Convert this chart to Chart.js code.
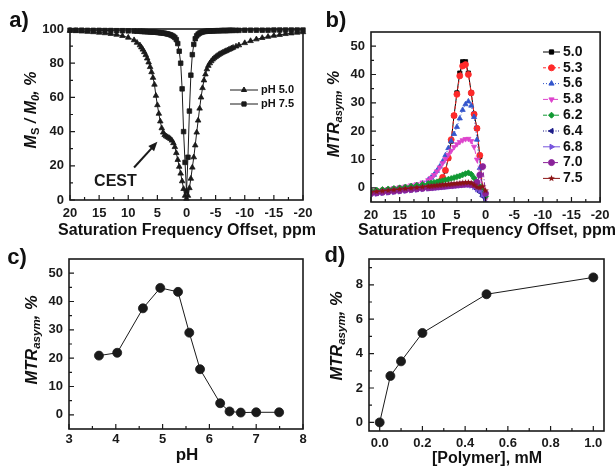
<!DOCTYPE html>
<html>
<head>
<meta charset="utf-8">
<script src="https://cdn.jsdelivr.net/npm/chart.js@4.4.0/dist/chart.umd.min.js"></script>
<style>
  body { margin: 0; background: #fff; width: 615px; height: 470px; position: relative; overflow: hidden;
         font-family: "Liberation Sans", Arial, sans-serif; color: #111; }
  canvas { position: absolute; }
  .t { position: absolute; font-weight: bold; white-space: nowrap; line-height: 1; transform: translate(-50%, -50%); }
  .yt { position: absolute; font-weight: bold; font-style: italic; white-space: nowrap; line-height: 1;
        transform: translate(-50%, -50%) rotate(-90deg); }
  .yt sub { font-size: 70%; vertical-align: -0.25em; }
</style>
</head>
<body>
<canvas id="ca" width="320" height="235" style="left:0;top:0"></canvas>
<canvas id="cb" width="310" height="235" style="left:305px;top:0"></canvas>
<canvas id="cc" width="320" height="235" style="left:0;top:235px"></canvas>
<canvas id="cd" width="310" height="235" style="left:305px;top:235px"></canvas>

<div class="t" style="left:19px;top:20px;font-size:22px">a)</div>
<div class="t" style="left:336px;top:20px;font-size:22px">b)</div>
<div class="t" style="left:17px;top:257px;font-size:22px">c)</div>
<div class="t" style="left:335px;top:255px;font-size:22px">d)</div>

<div class="yt" style="left:32px;top:110px;font-size:16px"><i>M</i><sub style="font-style:normal">S</sub> / <i>M</i><sub>0</sub>, %</div>
<div class="yt" style="left:335px;top:114px;font-size:16px">MTR<sub>asym</sub>, %</div>
<div class="yt" style="left:33px;top:340px;font-size:16.5px">MTR<sub>asym</sub>, %</div>
<div class="yt" style="left:338px;top:336px;font-size:16.5px">MTR<sub>asym</sub>, %</div>

<div class="t" style="left:187px;top:230px;font-size:16px">Saturation Frequency Offset, ppm</div>
<div class="t" style="left:487px;top:230px;font-size:16px">Saturation Frequency Offset, ppm</div>
<div class="t" style="left:187px;top:454px;font-size:17px">pH</div>
<div class="t" style="left:487px;top:458px;font-size:16px">[Polymer], mM</div>

<script>
var FONT = '"Liberation Sans", Arial, sans-serif';

// ---------------- a) Z-spectra ----------------
var offsetA = [20, 19, 18, 17, 16, 15, 14, 13, 12, 11, 10, 9, 8.5,
  8, 7.75, 7.5, 7.25, 7, 6.75, 6.5, 6.25, 6, 5.75, 5.5, 5.25, 5, 4.75, 4.5, 4.25, 4, 3.75, 3.5, 3.25, 3,
  2.75, 2.5, 2.25, 2, 1.75, 1.5, 1.25, 1, 0.75, 0.5, 0.25, 0,
  -0.25, -0.5, -0.75, -1, -1.25, -1.5, -1.75, -2, -2.25, -2.5, -2.75, -3, -3.25, -3.5, -3.75, -4,
  -4.25, -4.5, -4.75, -5, -5.25, -5.5, -5.75, -6, -6.25, -6.5, -6.75, -7, -7.25, -7.5, -7.75, -8,
  -8.5, -9, -10, -11, -12, -13, -14, -15, -16, -17, -18, -19, -20];
var zPH50 = [99, 98.8, 98.6, 98.4, 98.2, 97.9, 97.6, 97.2, 96.7, 96, 95, 93.5, 92,
  90.5, 89.3, 88, 86.5, 84.8, 82.8, 80.5, 77.8, 74.8, 71.5, 67.5, 61, 55.5, 50.5, 46, 42, 39.5, 38, 37.3, 36.8, 36.3,
  35.7, 34.8, 33.3, 31, 27.5, 23.5, 19.5, 15.5, 11, 6.5, 2.5, 0.8,
  2.5, 7, 12.5, 19, 25, 32, 39.5, 46.5, 53.5, 60, 65.5, 70, 73.5, 76.5, 78.5, 80,
  81.2, 82.2, 83, 83.7, 84.3, 84.9, 85.4, 85.9, 86.3, 86.7, 87.1, 87.5, 87.9, 88.3, 88.7, 89.1,
  89.8, 90.5, 91.8, 93, 94, 94.8, 95.5, 96.1, 96.6, 97.1, 97.5, 97.9, 98.2];
var zPH75 = [99.3, 99.3, 99.3, 99.2, 99.2, 99.2, 99.1, 99.1, 99, 99, 98.9, 98.8, 98.7,
  98.7, 98.6, 98.6, 98.5, 98.5, 98.4, 98.4, 98.3, 98.3, 98.2, 98.2, 98.1, 98, 97.9, 97.8, 97.7, 97.6, 97.5, 97.3, 97.1, 96.9,
  96.6, 96.2, 95.7, 95, 93.8, 91.5, 87, 80, 65, 40, 22, 5,
  25, 52, 73, 85, 91, 94.3, 96, 97, 97.6, 98, 98.3, 98.5, 98.6, 98.7, 98.8, 98.8,
  98.9, 98.9, 98.9, 99, 99, 99, 99, 99.1, 99.1, 99.1, 99.1, 99.1, 99.2, 99.2, 99.2, 99.2,
  99.2, 99.2, 99.3, 99.3, 99.3, 99.3, 99.3, 99.4, 99.4, 99.4, 99.4, 99.4, 99.4];
var ticksAx = [20, 15, 10, 5, 0, -5, -10, -15, -20];
var minorAx = [17.5, 12.5, 7.5, 2.5, -2.5, -7.5, -12.5, -17.5];
var ticksAy = [0, 20, 40, 60, 80, 100];
var minorAy = [10, 30, 50, 70, 90];

// ---------------- b) MTRasym spectra ----------------
var offsetB = [20, 19, 18, 17, 16, 15, 14, 13, 12, 11, 10, 9.5, 9, 8.5, 8, 7.5, 7, 6.5, 6, 5.5, 5,
  4.5, 4, 3.5, 3, 2.5, 2, 1.5, 1, 0.5, 0];
var mtrB50 = [-1.6, -1.4, -1.2, -1.0, -0.8, -0.6, -0.4, -0.2, 0.0, 0.2, 0.4, 0.6, 0.8, 1.2, 2.0, 3.5, 6.0, 10.5, 16.5, 25.5, 33.5,
  40.5, 44.5, 44.5, 40.5, 33.5, 26, 21, 11, -2, -8];
var mtrB53 = [-1.4, -1.2, -1.0, -0.8, -0.6, -0.4, -0.2, 0.0, 0.2, 0.4, 0.6, 0.8, 1.0, 1.4, 2.2, 3.7, 6.2, 10.5, 17, 25.5, 33,
  39.5, 43, 43.5, 40, 33.5, 26, 21, 11.5, -1, -7];
var mtrB56 = [-1.5, -1.3, -1.1, -0.9, -0.6, -0.3, 0.0, 0.4, 0.9, 1.6, 2.8, 3.6, 4.6, 6.0, 7.5, 9.3, 11.5, 14, 16.5, 19, 21.5,
  24.5, 27.5, 29.5, 30.5, 29, 25, 17, 7, -1, -6];
var mtrB58 = [-1.3, -1.0, -0.7, -0.4, -0.1, 0.2, 0.5, 0.9, 1.3, 1.9, 2.7, 3.5, 4.5, 5.8, 7.2, 8.7, 10.2, 11.7, 13.1, 14.4, 15.4,
  16.2, 16.8, 17.2, 17.3, 16.5, 14.5, 10, 4.5, -0.5, -4];
var mtrB62 = [-1.0, -0.8, -0.6, -0.4, -0.2, 0.0, 0.3, 0.6, 0.9, 1.2, 1.5, 1.7, 1.9, 2.1, 2.3, 2.5, 2.8, 3.0, 3.3, 3.6, 3.9,
  4.2, 4.6, 5.0, 5.3, 4.8, 3.5, 2, 0.5, -1, -3];
var mtrB64 = [-2.0, -1.8, -1.6, -1.4, -1.2, -1.0, -0.8, -0.6, -0.4, -0.2, 0.0, 0.1, 0.2, 0.3, 0.4, 0.5, 0.6, 0.7, 0.8, 0.9, 1.0,
  1.1, 1.2, 1.3, 1.3, 1.1, 0.5, -0.5, -1.5, -3, -6];
var mtrB68 = [-2.3, -2.1, -1.9, -1.7, -1.5, -1.3, -1.1, -0.9, -0.7, -0.5, -0.3, -0.2, -0.1, 0.0, 0.1, 0.2, 0.3, 0.4, 0.5, 0.6, 0.7,
  0.8, 0.9, 1.0, 1.0, 0.8, 0.3, -0.5, -1.0, -2.5, -5];
var mtrB70 = [-2.0, -1.8, -1.6, -1.4, -1.2, -1.0, -0.8, -0.6, -0.4, -0.2, 0.0, 0.1, 0.2, 0.3, 0.4, 0.5, 0.6, 0.7, 0.8, 0.9, 1.0,
  1.1, 1.2, 1.3, 1.3, 1.2, 1.0, 2.0, 4.5, 7.5, -2];
var mtrB75 = [-1.5, -1.3, -1.1, -0.9, -0.7, -0.5, -0.3, -0.1, 0.1, 0.3, 0.5, 0.6, 0.7, 0.8, 0.9, 1.0, 1.1, 1.2, 1.3, 1.4, 1.5,
  1.6, 1.7, 1.8, 1.9, 1.7, 1.0, 0.2, 0.0, 0.5, -1];
var labelsB = ['5.0', '5.3', '5.6', '5.8', '6.2', '6.4', '6.8', '7.0', '7.5'];
var ticksBy = [0, 10, 20, 30, 40, 50];
var minorBy = [5, 15, 25, 35, 45];

// ---------------- c) MTRasym vs pH ----------------
var phC = [3.64, 4.03, 4.58, 4.95, 5.33, 5.57, 5.8, 6.23, 6.43, 6.67, 7.0, 7.49];
var mtrC = [20.9, 21.9, 37.6, 44.8, 43.4, 29.0, 16.1, 4.1, 1.2, 0.8, 0.9, 0.9];
var ticksCx = [3, 4, 5, 6, 7, 8];
var minorCx = [3.5, 4.5, 5.5, 6.5, 7.5];

// ---------------- d) MTRasym vs concentration ----------------
var polyD = [0, 0.05, 0.1, 0.2, 0.5, 1.0];
var mtrD = [0, 2.7, 3.55, 5.2, 7.45, 8.43];
var ticksDx = [0, 0.2, 0.4, 0.6, 0.8, 1.0];
var minorDx = [0.1, 0.3, 0.5, 0.7, 0.9];
var ticksDy = [0, 2, 4, 6, 8];
var minorDy = [1, 3, 5, 7, 9];

function pts(xs, ys) {
  return xs.map(function (x, i) { return { x: x, y: ys[i] }; });
}

// petite etoile pleine pour la serie pH 7.5
function starImage(color, r) {
  var c = document.createElement('canvas');
  var s = Math.ceil(r * 2 + 2);
  c.width = s; c.height = s;
  var g = c.getContext('2d');
  g.fillStyle = color;
  g.beginPath();
  for (var k = 0; k < 10; k++) {
    var rr = k % 2 ? r * 0.45 : r;
    var ang = -Math.PI / 2 + k * Math.PI / 5;
    g.lineTo(s / 2 + rr * Math.cos(ang), s / 2 + rr * Math.sin(ang));
  }
  g.closePath();
  g.fill();
  return c;
}

// cadre + graduations vers l'interieur
var frame = {
  id: 'frame',
  afterDatasetsDraw: function (chart, args, o) {
    var a = chart.chartArea, ctx = chart.ctx, xs = chart.scales.x, ys = chart.scales.y;
    ctx.save();
    ctx.strokeStyle = '#1a1a1a';
    ctx.lineWidth = 1.2;
    ctx.beginPath();
    xs.ticks.forEach(function (t) { var x = xs.getPixelForValue(t.value); ctx.moveTo(x, a.bottom); ctx.lineTo(x, a.bottom - 5); });
    (o.xMinor || []).forEach(function (v) { var x = xs.getPixelForValue(v); ctx.moveTo(x, a.bottom); ctx.lineTo(x, a.bottom - 3); });
    ys.ticks.forEach(function (t) { var y = ys.getPixelForValue(t.value); ctx.moveTo(a.left, y); ctx.lineTo(a.left + 5, y); });
    (o.yMinor || []).forEach(function (v) { var y = ys.getPixelForValue(v); ctx.moveTo(a.left, y); ctx.lineTo(a.left + 3, y); });
    ctx.stroke();
    ctx.lineWidth = 1.6;
    ctx.strokeRect(a.left, a.top, a.right - a.left, a.bottom - a.top);
    ctx.restore();
  }
};

// legende dessinee dans la zone du graphique
var inLegend = {
  id: 'inLegend',
  afterDatasetsDraw: function (chart, args, o) {
    if (!o.x0) return;
    var ctx = chart.ctx;
    chart.data.datasets.forEach(function (ds, i) {
      var y = o.y0 + i * o.dy;
      ctx.save();
      ctx.strokeStyle = ds.borderColor;
      ctx.lineWidth = 1;
      ctx.setLineDash(ds.borderDash || []);
      ctx.beginPath(); ctx.moveTo(o.x0, y); ctx.lineTo(o.x1, y); ctx.stroke();
      ctx.setLineDash([]);
      ctx.fillStyle = ds.pointBackgroundColor;
      ctx.strokeStyle = ds.pointBorderColor;
      Chart.helpers.drawPoint(ctx, { pointStyle: ds.pointStyle, rotation: ds.pointRotation || 0, radius: o.r, borderWidth: 1 }, (o.x0 + o.x1) / 2, y);
      ctx.fillStyle = '#111';
      ctx.font = o.font;
      ctx.textAlign = 'left';
      ctx.textBaseline = 'middle';
      ctx.fillText(ds.label, o.tx, y);
      ctx.restore();
    });
  }
};

// fleche CEST du panneau a)
var cestArrow = {
  id: 'cestArrow',
  afterDatasetsDraw: function (chart, args, o) {
    if (!o.on) return;
    var xs = chart.scales.x, ys = chart.scales.y, ctx = chart.ctx;
    var x0 = xs.getPixelForValue(9.0), y0 = ys.getPixelForValue(19);
    var x1 = xs.getPixelForValue(5.0), y1 = ys.getPixelForValue(34);
    var ang = Math.atan2(y1 - y0, x1 - x0);
    ctx.save();
    ctx.strokeStyle = '#1a1a1a'; ctx.fillStyle = '#1a1a1a'; ctx.lineWidth = 2;
    ctx.beginPath(); ctx.moveTo(x0, y0); ctx.lineTo(x1 - 6 * Math.cos(ang), y1 - 6 * Math.sin(ang)); ctx.stroke();
    ctx.beginPath();
    ctx.moveTo(x1, y1);
    ctx.lineTo(x1 - 10 * Math.cos(ang - 0.4), y1 - 10 * Math.sin(ang - 0.4));
    ctx.lineTo(x1 - 10 * Math.cos(ang + 0.4), y1 - 10 * Math.sin(ang + 0.4));
    ctx.closePath(); ctx.fill();
    ctx.font = 'bold 16px ' + FONT;
    ctx.textAlign = 'center'; ctx.textBaseline = 'middle';
    ctx.fillText('CEST', xs.getPixelForValue(12.2), ys.getPixelForValue(10.5));
    ctx.restore();
  }
};

Chart.register(frame, inLegend, cestArrow);

function axis(min, max, ticks, fmt, size, isY, reverse, pad) {
  return {
    type: 'linear', min: min, max: max, reverse: !!reverse,
    afterBuildTicks: function (s) { s.ticks = ticks.map(function (v) { return { value: v }; }); },
    afterFit: function (s) { if (isY) s.width = size; else s.height = size; },
    grid: { display: false, drawTicks: false },
    border: { display: false },
    ticks: { color: '#1a1a1a', font: { family: FONT, size: 13, weight: 'bold' },
             padding: pad !== undefined ? pad : (isY ? 6 : 5),
             autoSkip: false, maxRotation: 0, callback: fmt }
  };
}

function plain(v) { return String(v); }
function fixed1(v) { return v.toFixed(1); }

function makeChart(id, datasets, xAx, yAx, pad, plugins) {
  return new Chart(document.getElementById(id).getContext('2d'), {
    type: 'line',
    data: { datasets: datasets },
    options: {
      responsive: false,
      animation: false,
      layout: { padding: pad },
      scales: { x: xAx, y: yAx },
      plugins: Object.assign({ legend: { display: false }, tooltip: { enabled: false } }, plugins)
    }
  });
}

function ds(label, data, color, style, radius, dash, rot) {
  return {
    label: label, data: data, borderColor: color, borderWidth: 1, borderDash: dash || [],
    pointStyle: style, pointRotation: rot || 0, pointRadius: radius, pointBorderWidth: 0.8,
    pointBackgroundColor: color, pointBorderColor: color, tension: 0, fill: false
  };
}

// a)
var dsA = [
  ds('pH 5.0', pts(offsetA, zPH50), '#1a1a1a', 'triangle', 3.2),
  ds('pH 7.5', pts(offsetA, zPH75), '#1a1a1a', 'rect', 3.2)
];
dsA.forEach(function (d) { d.clip = 4; });
makeChart('ca', dsA,
  axis(-20, 20, ticksAx, plain, 35, false, true, 5.5),
  axis(0, 100, ticksAy, plain, 70, true),
  { top: 29, right: 17, left: 0, bottom: 0 },
  { frame: { xMinor: minorAx, yMinor: minorAy },
    inLegend: { x0: 230, x1: 258, tx: 261, y0: 90, dy: 14, r: 3, font: 'bold 11px ' + FONT },
    cestArrow: { on: true } });

// b)
var colorsB = ['#000000', '#ff2a2a', '#3355cc', '#dd44cc', '#119933', '#1c1c88', '#7755dd', '#8a2299', '#8b1414'];
var stylesB = ['rect', 'circle', 'triangle', 'triangle', 'rectRot', 'triangle', 'triangle', 'circle', starImage('#8b1414', 3.5)];
var rotB = [0, 0, 0, 180, 0, -90, 90, 0, 0];
var dashB = [[], [3, 2], [1, 2], [5, 2, 1, 2], [4, 2], [1, 1.5], [], [5, 2, 1, 2], []];
var seriesB = [mtrB50, mtrB53, mtrB56, mtrB58, mtrB62, mtrB64, mtrB68, mtrB70, mtrB75];
var dsB = seriesB.map(function (s, i) {
  var d = ds(labelsB[i], pts(offsetB, s), colorsB[i], stylesB[i], 3, dashB[i], rotB[i]);
  d.order = seriesB.length - i;
  return d;
});
makeChart('cb', dsB,
  axis(-20, 20, ticksAx, plain, 33, false, true, 5.5),
  axis(-5, 55, ticksBy, plain, 66, true),
  { top: 32, right: 12, left: 0, bottom: 0 },
  { frame: { xMinor: minorAx, yMinor: minorBy },
    inLegend: { x0: 238, x1: 255, tx: 258, y0: 52, dy: 15.8, r: 3, font: 'bold 14px ' + FONT } });

// c)
makeChart('cc', [ds('pH', pts(phC, mtrC), '#1a1a1a', 'circle', 4.5)],
  axis(3, 8, ticksCx, plain, 41, false, false, 2.5),
  axis(-5, 55, ticksBy, plain, 69, true),
  { top: 24, right: 17, left: 0, bottom: 0 },
  { frame: { xMinor: minorCx, yMinor: minorBy } });

// d)
makeChart('cd', [ds('conc', pts(polyD, mtrD), '#1a1a1a', 'circle', 4.5)],
  axis(-0.05, 1.05, ticksDx, fixed1, 39, false, false, 5),
  axis(-0.5, 9.5, ticksDy, plain, 64, true),
  { top: 24, right: 11, left: 0, bottom: 0 },
  { frame: { xMinor: minorDx, yMinor: minorDy } });
</script>
</body>
</html>
